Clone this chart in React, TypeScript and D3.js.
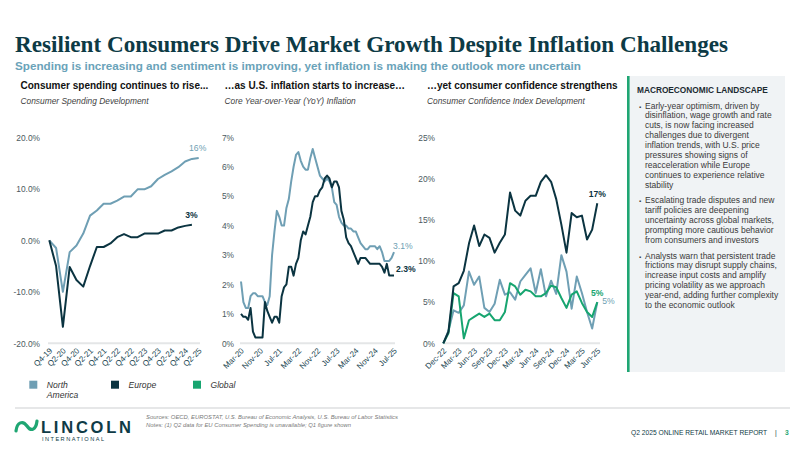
import React, { useEffect, useRef } from 'react';
import * as d3 from 'd3';

// Consumer spending, cumulative change since Q4-19 (%)
const spendingQuarters = [
  'Q4-19', 'Q1-20', 'Q2-20', 'Q3-20', 'Q4-20', 'Q1-21', 'Q2-21', 'Q3-21', 'Q4-21', 'Q1-22', 'Q2-22', 'Q3-22',
  'Q4-22', 'Q1-23', 'Q2-23', 'Q3-23', 'Q4-23', 'Q1-24', 'Q2-24', 'Q3-24', 'Q4-24', 'Q1-25', 'Q2-25',
];
const spendingTicks = ['Q4-19', 'Q2-20', 'Q4-20', 'Q2-21', 'Q4-21', 'Q2-22', 'Q4-22', 'Q2-23', 'Q4-23', 'Q2-24', 'Q4-24', 'Q2-25'];
const spendingNorthAmerica = [0, -1.5, -10, -2.3, -1, 1.3, 4.8, 5.8, 7.1, 7.1, 7.7, 8.5, 8.5, 9.9, 9.9, 10.5, 11.9, 12.7, 13.4, 14.2, 15.3, 15.8, 16];
// Q2-25 not published for Europe, series stops at Q1-25
const spendingEurope = [0, -5, -16.8, -5.2, -7.7, -9, -5, -1.3, -1.3, -0.6, 0.6, 1.2, 0.6, 0.6, 1.3, 1.3, 1.3, 1.9, 1.9, 2.5, 2.8, 3];
const spendingYTicks = [20, 10, 0, -10, -20];

// Core YoY inflation, monthly Mar-20 .. Jul-25 (%)
const inflationTicks = ['Mar-20', 'Nov-20', 'Jul-21', 'Mar-22', 'Nov-22', 'Jul-23', 'Mar-24', 'Nov-24', 'Jul-25'];
const inflationNorthAmerica = [
  2.1, 1.4, 1.2, 1.2, 1.6, 1.7, 1.7, 1.6, 1.6, 1.6,
  1.4, 1.3, 1.6, 3.0, 3.8, 4.5, 4.3, 4.0, 4.0, 4.6, 4.9, 5.5,
  6.0, 6.4, 6.5, 6.2, 6.0, 5.9, 5.9, 6.3, 6.6, 6.3, 6.0, 5.7,
  5.6, 5.5, 5.6, 5.5, 5.3, 4.8, 4.7, 4.3, 4.1, 4.0, 4.0, 3.9,
  3.9, 3.8, 3.8, 3.6, 3.4, 3.3, 3.2, 3.2, 3.3, 3.3, 3.3, 3.2,
  3.3, 3.1, 2.8, 2.8, 2.8, 2.9, 3.1,
];
const inflationEurope = [
  1.0, 0.9, 0.9, 0.8, 1.2, 0.4, 0.2, 0.2, 0.2, 0.2,
  1.4, 1.1, 0.9, 0.7, 0.9, 0.9, 0.7, 1.6, 1.9, 2.0, 2.6, 2.6,
  2.3, 2.7, 2.9, 3.5, 3.8, 3.7, 4.0, 4.3, 4.8, 5.0, 5.0, 5.2,
  5.3, 5.6, 5.7, 5.6, 5.3, 5.5, 5.5, 5.3, 4.5, 4.2, 3.6, 3.4,
  3.3, 3.1, 2.9, 2.7, 2.9, 2.9, 2.9, 2.8, 2.7, 2.7, 2.7, 2.7,
  2.7, 2.6, 2.4, 2.7, 2.3, 2.3, 2.3,
];
const inflationYTicks = [7, 6, 5, 4, 3, 2, 1, 0];

// Consumer confidence index, change since Dec-22 (%)
const confidenceTicks = ['Dec-22', 'Mar-23', 'Jun-23', 'Sep-23', 'Dec-23', 'Mar-24', 'Jun-24', 'Sep-24', 'Dec-24', 'Mar-25', 'Jun-25'];
const confidenceEurope = [
  0, 1.4, 6.9, 7.3, 8.8, 12.1, 14.3, 11.8, 13.2, 12.8, 11.0, 12.2, 13.2, 18.3, 16.1, 15.5,
  17.3, 17.9, 17.9, 19.6, 20.4, 19.6, 17.5, 14.4, 11.0, 15.8, 15.3, 15.5, 12.6, 13.8, 17,
];
const confidenceNorthAmerica = [
  0, 1.5, 4.0, 3.7, 4.6, 8.7, 7.1, 8.1, 4.3, 3.8, 4.8, 7.7, 5.9, 6.2, 5.3, 7.5,
  8.3, 9.1, 6.1, 9.0, 5.7, 7.6, 6.0, 10.7, 8.7, 4.2, 8.1, 6.1, 3.8, 1.8, 5,
];
const confidenceGlobal = [
  0, 1.2, 6.1, 5.7, 0.6, 2.8, 3.2, 3.6, 3.2, 3.6, 2.8, 2.8, 3.8, 7.3, 6.9, 5.9,
  6.5, 6.3, 5.7, 5.7, 6.1, 7.0, 6.8, 5.5, 4.3, 5.9, 6.3, 4.9, 3.8, 3.2, 5,
];
const confidenceYTicks = [25, 20, 15, 10, 5, 0];

const legendItems = ['North America', 'Europe', 'Global'];

const bullets = [
  ['Early-year optimism, driven by', 'disinflation, wage growth and rate', 'cuts, is now facing increased',
    'challenges due to divergent', 'inflation trends, with U.S. price', 'pressures showing signs of',
    'reacceleration while Europe', 'continues to experience relative', 'stability'],
  ['Escalating trade disputes and new', 'tariff policies are deepening', 'uncertainty across global markets,',
    'prompting more cautious behavior', 'from consumers and investors'],
  ['Analysts warn that persistent trade', 'frictions may disrupt supply chains,', 'increase input costs and amplify',
    'pricing volatility as we approach', 'year-end, adding further complexity', 'to the economic outlook'],
];

const COLORS = { na: '#6f9fb4', eu: '#0b3441', global: '#17a570' };
const SANS = '"Liberation Sans", Arial, Helvetica, sans-serif';

function monthLabels(start: Date, count: number) {
  const fmt = d3.timeFormat('%b-%y');
  return d3.range(count).map((i) => fmt(d3.timeMonth.offset(start, i)));
}

type Series = { values: number[]; color: string; label: string; bold: boolean; dx: number; dy: number; anchor: string };

export default function App() {
  const svgRef = useRef<SVGSVGElement>(null);

  useEffect(() => {
    if (!svgRef.current) return;
    const svg = d3.select(svgRef.current);
    svg.selectAll('*').remove();

    const top = 137.3;
    const bottom = 343.3;

    const drawPanel = (
      categories: string[], xRange: [number, number], yDomain: [number, number],
      yTicks: number[], yFormat: (v: number) => string, labelRight: number,
      ticks: string[], series: Series[], gridRange: [number, number],
    ) => {
      const x = d3.scalePoint<string>().domain(categories).range(xRange);
      const y = d3.scaleLinear().domain(yDomain).range([bottom, top]);
      const g = svg.append('g');

      // baseline grid line
      g.append('line')
        .attr('x1', gridRange[0]).attr('x2', gridRange[1])
        .attr('y1', y(yDomain[0])).attr('y2', y(yDomain[0]))
        .attr('stroke', '#e4e6e7').attr('stroke-width', 2);

      const yAxis = g.append('g')
        .attr('transform', `translate(${labelRight},0)`)
        .call(d3.axisLeft(y).tickValues(yTicks).tickSize(0).tickPadding(0).tickFormat((d) => yFormat(+d)));
      yAxis.select('.domain').remove();
      yAxis.selectAll('text')
        .attr('fill', '#4b5960').style('font-family', SANS).style('font-size', '8.4px');

      const xAxis = g.append('g')
        .attr('transform', `translate(1,${bottom + 6})`)
        .call(d3.axisBottom(x).tickValues(ticks).tickSize(0));
      xAxis.select('.domain').remove();
      xAxis.selectAll('text')
        .attr('x', 0).attr('y', 0).attr('dy', '0.35em')
        .attr('transform', 'rotate(-45)')
        .attr('text-anchor', 'end')
        .attr('fill', '#1d4854').style('font-family', SANS).style('font-size', '8px');

      series.forEach((s) => {
        const cats = categories.slice(0, s.values.length);
        const line = d3.line<number>()
          .x((_, i) => x(cats[i])!)
          .y((d) => y(d));
        g.append('path')
          .datum(s.values)
          .attr('fill', 'none')
          .attr('stroke', s.color)
          .attr('stroke-width', 2)
          .attr('stroke-linejoin', 'round')
          .attr('d', line);
      });

      series.forEach((s) => {
        const last = s.values.length - 1;
        g.append('text')
          .attr('x', x(categories[last])! + s.dx)
          .attr('y', y(s.values[last]) + s.dy)
          .attr('dy', '0.35em')
          .attr('text-anchor', s.anchor)
          .attr('fill', s.color)
          .style('font-family', SANS)
          .style('font-size', '8.6px')
          .style('font-weight', s.bold ? 'bold' : 'normal')
          .text(s.label);
      });
    };

    // Panel 1: consumer spending
    drawPanel(
      spendingQuarters, [49.3, 198.7], [-20, 20], spendingYTicks, (v) => `${v.toFixed(1)}%`, 40,
      spendingTicks,
      [
        { values: spendingNorthAmerica, color: COLORS.na, label: '16%', bold: false, dx: -1, dy: -9.5, anchor: 'middle' },
        { values: spendingEurope, color: COLORS.eu, label: '3%', bold: true, dx: -0.5, dy: -10, anchor: 'middle' },
      ],
      [48, 200],
    );

    // Panel 2: core inflation
    drawPanel(
      monthLabels(new Date(2020, 2, 1), inflationNorthAmerica.length), [241, 394], [0, 7], inflationYTicks,
      (v) => `${v}%`, 234, inflationTicks,
      [
        { values: inflationNorthAmerica, color: COLORS.na, label: '3.1%', bold: false, dx: -1, dy: -6, anchor: 'start' },
        { values: inflationEurope, color: COLORS.eu, label: '2.3%', bold: true, dx: 2, dy: -6.5, anchor: 'start' },
      ],
      [240, 395],
    );

    // Panel 3: consumer confidence
    drawPanel(
      monthLabels(new Date(2022, 11, 1), confidenceEurope.length), [443.3, 597.3], [0, 25], confidenceYTicks,
      (v) => `${v}%`, 435, confidenceTicks,
      [
        { values: confidenceNorthAmerica, color: COLORS.na, label: '5%', bold: false, dx: 5, dy: -1, anchor: 'start' },
        { values: confidenceGlobal, color: COLORS.global, label: '5%', bold: true, dx: 0, dy: -9, anchor: 'middle' },
        { values: confidenceEurope, color: COLORS.eu, label: '17%', bold: true, dx: 0, dy: -9, anchor: 'middle' },
      ],
      [443, 600],
    );

    // Title block
    svg.append('text')
      .attr('x', 15).attr('y', 52)
      .attr('textLength', 713).attr('lengthAdjust', 'spacingAndGlyphs')
      .attr('fill', '#0d3a45')
      .style('font-family', '"Liberation Serif", "DejaVu Serif", serif')
      .style('font-size', '22.5px').style('font-weight', 'bold')
      .text('Resilient Consumers Drive Market Growth Despite Inflation Challenges');

    svg.append('text')
      .attr('x', 15).attr('y', 69.5)
      .attr('textLength', 566).attr('lengthAdjust', 'spacingAndGlyphs')
      .attr('fill', '#6aa3b9')
      .style('font-family', SANS).style('font-size', '11.5px').style('font-weight', 'bold')
      .text('Spending is increasing and sentiment is improving, yet inflation is making the outlook more uncertain');

    const heads = [
      { x: 20.5, head: 'Consumer spending continues to rise...', sub: 'Consumer Spending Development' },
      { x: 224.5, head: '\u2026as U.S. inflation starts to increase\u2026', sub: 'Core Year-over-Year (YoY) Inflation' },
      { x: 427, head: '\u2026yet consumer confidence strengthens', sub: 'Consumer Confidence Index Development' },
    ];
    heads.forEach((h) => {
      svg.append('text')
        .attr('x', h.x).attr('y', 88.5)
        .attr('fill', '#111')
        .style('font-family', SANS).style('font-size', '10px').style('font-weight', 'bold')
        .text(h.head);
      svg.append('text')
        .attr('x', h.x).attr('y', 103.5)
        .attr('fill', '#3f3f3f')
        .style('font-family', SANS).style('font-size', '8.4px').style('font-style', 'italic')
        .text(h.sub);
    });

    // Side commentary box
    svg.append('rect')
      .attr('x', 627).attr('y', 76).attr('width', 158).attr('height', 296)
      .attr('fill', '#f0f3f5');
    svg.append('rect')
      .attr('x', 627).attr('y', 76).attr('width', 2.6).attr('height', 296)
      .attr('fill', '#1fa673');
    svg.append('text')
      .attr('x', 637).attr('y', 93)
      .attr('fill', '#1b2a31')
      .style('font-family', SANS).style('font-size', '8.3px').style('font-weight', 'bold')
      .text('MACROECONOMIC LANDSCAPE');

    const lineH = 9.9;
    let yPos = 108.5;
    bullets.forEach((lines) => {
      svg.append('text')
        .attr('x', 639).attr('y', yPos)
        .attr('fill', '#3a3a3a')
        .style('font-family', SANS).style('font-size', '6px')
        .text('\u25AA');
      lines.forEach((ln, i) => {
        svg.append('text')
          .attr('x', 645).attr('y', yPos + i * lineH)
          .attr('fill', '#3a3a3a')
          .style('font-family', SANS).style('font-size', '8.5px')
          .text(ln);
      });
      yPos += lines.length * lineH + 5.7;
    });

    // Legend
    const legendColors = [COLORS.na, COLORS.eu, COLORS.global];
    const legendX = [29.3, 111, 193];
    legendItems.forEach((name, i) => {
      svg.append('rect')
        .attr('x', legendX[i]).attr('y', 380.7).attr('width', 8).attr('height', 8)
        .attr('fill', legendColors[i]);
      const words = name === 'North America' ? ['North', 'America'] : [name];
      words.forEach((w, j) => {
        svg.append('text')
          .attr('x', legendX[i] + 17.5).attr('y', 387.5 + j * 10)
          .attr('fill', '#333')
          .style('font-family', SANS).style('font-size', '8.6px').style('font-style', 'italic')
          .text(w);
      });
    });

    // Footer
    svg.append('line')
      .attr('x1', 15).attr('x2', 790).attr('y1', 408).attr('y2', 408)
      .attr('stroke', '#dedfe0').attr('stroke-width', 1.5);

    svg.append('path')
      .attr('d', 'M16,431 C17,422 23,420 27,426 C31,432 36,430 37,421')
      .attr('fill', 'none').attr('stroke', '#1fa673').attr('stroke-width', 3.2).attr('stroke-linecap', 'round');
    svg.append('text')
      .attr('x', 41).attr('y', 432.5)
      .attr('textLength', 90).attr('lengthAdjust', 'spacing')
      .attr('fill', '#0f3b46')
      .style('font-family', SANS).style('font-size', '16.5px').style('font-weight', 'bold')
      .text('LINCOLN');
    svg.append('text')
      .attr('x', 42).attr('y', 440.5)
      .attr('textLength', 62).attr('lengthAdjust', 'spacing')
      .attr('fill', '#0f3b46')
      .style('font-family', SANS).style('font-size', '5.6px')
      .text('INTERNATIONAL');

    svg.append('text')
      .attr('x', 146).attr('y', 419)
      .attr('textLength', 252).attr('lengthAdjust', 'spacingAndGlyphs')
      .attr('fill', '#7a7a7a')
      .style('font-family', SANS).style('font-size', '6px').style('font-style', 'italic')
      .text('Sources: OECD, EUROSTAT, U.S. Bureau of Economic Analysis, U.S. Bureau of Labor Statistics');
    svg.append('text')
      .attr('x', 146).attr('y', 426.5)
      .attr('textLength', 205).attr('lengthAdjust', 'spacingAndGlyphs')
      .attr('fill', '#7a7a7a')
      .style('font-family', SANS).style('font-size', '6px').style('font-style', 'italic')
      .text('Notes: (1) Q2 data for EU Consumer Spending is unavailable; Q1 figure shown');

    svg.append('text')
      .attr('x', 631).attr('y', 434.5)
      .attr('fill', '#0f3b46')
      .style('font-family', SANS).style('font-size', '6.7px')
      .text('Q2 2025 ONLINE RETAIL MARKET REPORT');
    svg.append('text')
      .attr('x', 775).attr('y', 434.5)
      .attr('fill', '#0f3b46')
      .style('font-family', SANS).style('font-size', '6.7px')
      .text('|');
    svg.append('text')
      .attr('x', 785).attr('y', 434.5)
      .attr('fill', '#1fa673')
      .style('font-family', SANS).style('font-size', '6.7px').style('font-weight', 'bold')
      .text('3');
  }, []);

  return (
    <svg
      ref={svgRef}
      width={800}
      height={450}
      style={{ position: 'absolute', left: 0, top: 0, background: '#fff' }}
    />
  );
}
